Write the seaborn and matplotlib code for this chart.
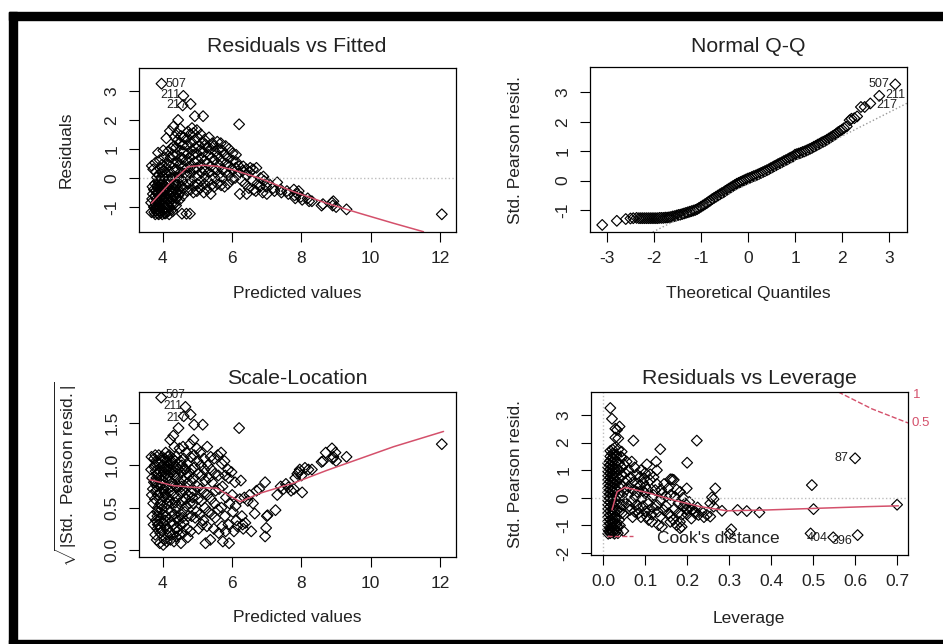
import matplotlib
matplotlib.use("Agg")
import matplotlib.pyplot as plt
from matplotlib.lines import Line2D
from matplotlib.patches import Rectangle
import seaborn as sns

# ---------------- Residuals vs Fitted ----------------
rvf_fitted = [
    3.66, 3.69, 3.71, 3.68, 3.72, 3.70, 3.67, 3.74,
    3.78, 3.80, 3.76, 3.82, 3.79, 3.81, 3.77, 3.83, 3.80, 3.86, 3.78, 3.84,
    3.88, 3.90, 3.92, 3.89, 3.91, 3.87, 3.93, 3.90, 3.88, 3.92, 3.96, 3.91, 3.94,
    3.98, 4.00, 4.02, 3.99, 4.01, 4.03, 3.97, 4.00, 4.02, 3.98, 4.04, 4.01, 4.05,
    4.08, 4.10, 4.12, 4.09, 4.11, 4.07, 4.13, 4.10, 4.08, 4.12, 4.10, 4.14,
    4.18, 4.20, 4.22, 4.19, 4.21, 4.17, 4.23, 4.20, 4.18, 4.22, 4.24, 4.20,
    4.28, 4.30, 4.32, 4.29, 4.31, 4.27, 4.33, 4.30, 4.28, 4.32, 4.30, 4.34,
    4.38, 4.40, 4.42, 4.39, 4.41, 4.37, 4.43, 4.40, 4.38, 4.42, 4.44, 4.41,
    4.48, 4.50, 4.52, 4.49, 4.51, 4.47, 4.53, 4.50, 4.48, 4.52, 4.50,
    4.55, 4.58, 4.60, 4.57, 4.62, 4.59, 4.56, 4.61, 4.58, 4.60, 4.57, 4.59,
    4.68, 4.70, 4.72, 4.69, 4.71, 4.67, 4.73, 4.70, 4.68, 4.72,
    4.78, 4.80, 4.82, 4.79, 4.81, 4.77, 4.83, 4.80, 4.78, 4.80, 4.84,
    4.88, 4.90, 4.92, 4.89, 4.91, 4.87, 4.93, 4.90, 4.88, 4.92,
    4.98, 5.00, 5.02, 4.99, 5.01, 4.97, 5.03, 5.00, 4.98,
    5.08, 5.10, 5.12, 5.09, 5.11, 5.07, 5.13, 5.10,
    5.18, 5.20, 5.22, 5.19, 5.21, 5.17, 5.23, 5.16, 5.20,
    5.28, 5.30, 5.32, 5.29, 5.31, 5.27, 5.33,
    5.38, 5.40, 5.42, 5.39, 5.41, 5.37, 5.43,
    5.48, 5.50, 5.52, 5.49, 5.51, 5.47,
    5.58, 5.60, 5.62, 5.59, 5.61, 5.57,
    5.68, 5.70, 5.72, 5.69, 5.71, 5.67,
    5.78, 5.80, 5.82, 5.79, 5.81,
    5.88, 5.90, 5.92, 5.89, 5.91,
    5.98, 6.00, 6.02, 6.01,
    6.08, 6.10, 6.12, 6.11,
    6.22, 6.18, 6.20, 6.20,
    6.28, 6.30, 6.32,
    6.42, 6.38, 6.40, 6.41,
    6.48, 6.50, 6.52,
    6.58, 6.60, 6.62,
    6.68, 6.70, 6.72,
    6.80, 6.82, 6.88, 6.90, 6.92,
    7.00, 7.02, 6.98, 7.18, 7.22, 7.30,
    7.40, 7.42, 7.58, 7.62, 7.78, 7.80, 7.82, 7.88, 7.92,
    7.98, 8.02, 8.18, 8.22, 8.30, 8.58, 8.62, 8.88, 8.90, 8.92, 9.00, 9.30, 12.05,
    3.75, 3.77, 3.79, 3.81, 3.83, 3.85, 3.74, 3.86,
    3.85, 3.87, 3.89, 3.93, 3.95, 3.84, 3.95, 3.97, 3.94, 3.96,
    4.05, 4.06, 4.04, 4.06, 4.05, 4.03, 4.15, 4.14, 4.16, 4.15, 4.13, 4.16,
    4.25, 4.24, 4.26, 4.25, 4.27, 4.35, 4.34, 4.36, 4.35, 4.45, 4.46, 4.44,
]
rvf_resid = [
    -0.85, -0.72, -0.55, 0.42, 0.30, -0.30, -1.18, -1.00,
    -1.25, -1.12, -0.98, -0.82, -0.62, -0.42, -0.20, 0.02, 0.22, 0.87, 0.52, -1.05,
    -1.25, -1.15, -1.02, -0.86, -0.70, -0.52, -0.32, -0.12, 0.10, 0.32, 3.25, 0.62, -1.20,
    -1.25, -1.10, -0.95, -0.76, -0.56, -0.36, -0.16, 0.05, 0.25, 0.46, 0.72, 0.95, -1.18,
    -1.22, -1.05, -0.90, -0.70, -0.50, -0.30, -0.10, 0.12, 0.32, 0.52, 1.37, 0.90,
    -1.25, -1.00, -0.80, -0.60, -0.40, -0.20, 0.00, 0.20, 0.45, 0.70, 1.02, 1.62,
    -1.15, -0.92, -0.66, -0.45, -0.25, 0.00, 0.25, 0.50, 0.80, 1.10, 1.77, 1.42,
    -0.95, -0.70, -0.48, -0.25, 0.02, 0.30, 0.55, 0.80, 1.05, 1.30, 2.00, 1.55,
    -0.75, -0.50, -0.30, 0.00, 0.20, 0.45, 0.70, 0.95, 1.20, 1.45, 1.70,
    -1.23, -0.60, -0.35, -0.10, 0.15, 0.40, 0.65, 0.90, 1.15, 1.40, 2.50, 2.83,
    -1.23, -0.45, -0.20, 0.10, 0.35, 0.60, 0.85, 1.10, 1.35, 1.60,
    -1.23, -0.40, -0.10, 0.15, 0.40, 0.70, 0.95, 1.20, 1.50, 2.55, 1.72,
    -0.50, -0.25, 0.05, 0.30, 0.55, 0.80, 1.05, 1.30, 1.55, 2.13,
    -0.45, -0.20, 0.10, 0.35, 0.60, 0.85, 1.10, 1.40, 1.65,
    -0.35, -0.10, 0.20, 0.45, 0.70, 0.95, 1.20, 1.50,
    -0.50, -0.20, 0.05, 0.30, 0.60, 0.90, 1.15, 2.13, 1.32,
    -0.40, -0.10, 0.20, 0.50, 0.80, 1.05, 1.40,
    -0.55, -0.25, 0.10, 0.40, 0.70, 1.00, 1.20,
    -0.30, 0.00, 0.30, 0.60, 0.90, 1.10,
    -0.20, 0.10, 0.45, 0.75, 1.00, 1.25,
    -0.25, 0.05, 0.30, 0.60, 0.95, 1.20,
    -0.30, 0.20, 0.50, 0.80, 1.10,
    -0.20, 0.10, 0.40, 0.70, 1.00,
    -0.05, 0.30, 0.60, 0.85,
    0.00, 0.35, 0.55, 0.80,
    -0.55, 0.15, 0.40, 1.85,
    -0.10, 0.25, 0.40,
    -0.55, -0.20, 0.10, 0.30,
    -0.35, 0.20, 0.35,
    -0.10, 0.30, -0.40,
    -0.45, 0.35, -0.20,
    -0.30, 0.00, -0.50, 0.05, -0.10,
    -0.55, -0.15, -0.30, -0.35, -0.45, -0.15,
    -0.40, -0.50, -0.45, -0.55, -0.40, -0.60, -0.70, -0.55, -0.45,
    -0.65, -0.75, -0.70, -0.80, -0.80, -0.95, -0.90, -0.85, -0.95, -0.80, -1.00, -1.08, -1.25,
    -1.18, -1.05, -0.90, -0.72, -0.52, -0.32, -0.40, -0.10,
    -1.22, -1.08, -0.94, -0.78, -0.60, -0.25, -0.45, -0.22, 0.00, 0.20,
    -1.22, -1.02, -0.85, -0.65, -0.45, -0.25, -1.15, -0.95, -0.75, -0.55, -0.35, -0.05,
    -1.10, -0.90, -0.70, -0.50, -0.30, -0.85, -0.60, -0.40, -0.15, -0.60, -0.40, -0.15,
]
rvf_smooth_x = [3.67, 4.20, 4.73, 5.17, 5.55, 6.03, 6.80, 7.77, 8.73, 9.69, 10.66, 11.52]
rvf_smooth_y = [-0.87, -0.18, 0.39, 0.44, 0.41, 0.28, -0.01, -0.47, -0.87, -1.22, -1.56, -1.85]

# ---------------- Normal Q-Q ----------------
qq_theoretical = [
    -3.10, -2.79, -2.60, -2.50, -2.44, -2.37,
    -2.32, -2.28, -2.24, -2.20, -2.16, -2.12, -2.08, -2.04, -2.00, -1.96, -1.92, -1.88,
    -1.84, -1.80, -1.76, -1.72,
    -1.68, -1.64, -1.60, -1.56, -1.52, -1.48, -1.44, -1.40, -1.36, -1.32, -1.28, -1.24,
    -1.20, -1.16, -1.12, -1.08, -1.04, -1.00, -0.96, -0.92, -0.88, -0.84, -0.80, -0.76,
    -0.72, -0.68, -0.64, -0.60, -0.56, -0.52, -0.48, -0.44, -0.40, -0.36, -0.32, -0.28,
    -0.24, -0.20, -0.16, -0.12, -0.08, -0.04, 0.00, 0.04, 0.08, 0.12, 0.16, 0.20,
    0.24, 0.28, 0.32, 0.36, 0.40, 0.44, 0.48, 0.52, 0.56, 0.60, 0.64, 0.68,
    0.72, 0.76, 0.80, 0.84, 0.88, 0.92, 0.96, 1.00, 1.04, 1.08, 1.12, 1.16,
    1.20, 1.24, 1.28, 1.32, 1.36, 1.40, 1.44, 1.48, 1.52, 1.56, 1.60, 1.64,
    1.68, 1.72, 1.76, 1.80, 1.84, 1.88, 1.92, 1.96, 2.00, 2.04, 2.10, 2.16,
    2.20, 2.26, 2.32, 2.40, 2.48, 2.60, 2.79, 3.13,
]
qq_sample = [
    -1.51, -1.37, -1.31, -1.29, -1.28, -1.27,
    -1.28, -1.28, -1.28, -1.28, -1.28, -1.28, -1.28, -1.28, -1.28, -1.28, -1.28, -1.27,
    -1.27, -1.27, -1.26, -1.26,
    -1.25, -1.24, -1.22, -1.21, -1.19, -1.17, -1.16, -1.14, -1.12, -1.10, -1.08, -1.06,
    -1.04, -1.02, -1.00, -0.97, -0.93, -0.89, -0.85, -0.81, -0.77, -0.72, -0.68, -0.63,
    -0.59, -0.55, -0.51, -0.47, -0.43, -0.40, -0.35, -0.31, -0.27, -0.23, -0.19, -0.15,
    -0.11, -0.08, -0.05, -0.02, 0.01, 0.04, 0.07, 0.09, 0.12, 0.15, 0.17, 0.20,
    0.23, 0.26, 0.29, 0.32, 0.35, 0.38, 0.42, 0.45, 0.49, 0.52, 0.56, 0.59,
    0.62, 0.66, 0.69, 0.72, 0.76, 0.79, 0.82, 0.88, 0.90, 0.92, 0.94, 0.97,
    0.99, 1.02, 1.05, 1.08, 1.11, 1.15, 1.18, 1.22, 1.25, 1.29, 1.32, 1.35,
    1.39, 1.43, 1.47, 1.51, 1.55, 1.60, 1.65, 1.69, 1.73, 1.78, 1.84, 2.05,
    2.10, 2.12, 2.18, 2.50, 2.50, 2.62, 2.88, 3.27,
]
qq_ref_intercept = -0.11
qq_ref_slope = 0.81

# ---------------- Scale-Location ----------------
sl_fitted = [
    3.66, 3.69, 3.71, 3.68, 3.72, 3.70, 3.67, 3.73,
    3.78, 3.80, 3.76, 3.82, 3.79, 3.81, 3.77, 3.83, 3.80, 3.84, 3.78, 3.82,
    3.88, 3.90, 3.92, 3.89, 3.91, 3.87, 3.93, 3.90, 3.88, 3.92, 3.95, 3.91, 3.94,
    3.98, 4.00, 4.02, 3.99, 4.01, 4.03, 3.97, 4.00, 4.02, 3.98, 4.04, 4.01,
    4.08, 4.10, 4.12, 4.09, 4.11, 4.07, 4.13, 4.10, 4.08, 4.12, 4.11,
    4.18, 4.20, 4.22, 4.19, 4.21, 4.17, 4.23, 4.20, 4.18, 4.22, 4.21,
    4.28, 4.30, 4.32, 4.29, 4.31, 4.27, 4.33, 4.30, 4.28, 4.32, 4.30, 4.33,
    4.38, 4.40, 4.42, 4.39, 4.41, 4.37, 4.43, 4.40, 4.38, 4.42, 4.45,
    4.48, 4.50, 4.52, 4.49, 4.51, 4.47, 4.53, 4.50, 4.48, 4.52,
    4.58, 4.60, 4.62, 4.59, 4.61, 4.57, 4.63, 4.60, 4.58, 4.60, 4.65,
    4.68, 4.70, 4.72, 4.69, 4.71, 4.67, 4.73, 4.70, 4.72,
    4.78, 4.80, 4.82, 4.79, 4.81, 4.77, 4.83, 4.80, 4.80,
    4.88, 4.90, 4.92, 4.89, 4.91, 4.87, 4.93, 4.90,
    4.98, 5.00, 5.02, 4.99, 5.01, 4.97, 5.03,
    5.08, 5.10, 5.12, 5.09, 5.11, 5.07, 5.13, 5.15,
    5.18, 5.20, 5.22, 5.19, 5.21, 5.17, 5.23,
    5.28, 5.30, 5.32, 5.29, 5.31, 5.27,
    5.38, 5.40, 5.42, 5.39, 5.41, 5.37,
    5.48, 5.50, 5.52, 5.49, 5.51, 5.47,
    5.58, 5.60, 5.62, 5.59, 5.61,
    5.68, 5.70, 5.72, 5.69, 5.71, 5.73,
    5.78, 5.80, 5.82, 5.79, 5.81,
    5.88, 5.90, 5.92, 5.89, 5.91,
    5.98, 6.00, 6.02, 6.05,
    6.08, 6.10, 6.12, 6.15, 6.20,
    6.22, 6.25, 6.28, 6.30, 6.32, 6.35, 6.38,
    6.45, 6.50, 6.55, 6.60, 6.65, 6.70, 6.78,
    6.95, 7.00, 7.02, 6.98, 6.95, 7.25, 7.30,
    7.40, 7.48, 7.55, 7.62, 7.70, 7.78, 7.82, 7.88, 7.95, 8.00, 8.02,
    7.92, 8.10, 8.20, 8.30, 8.58, 8.62, 8.70, 8.88, 8.92, 8.98, 9.00, 8.90, 9.30, 12.05,
    3.75, 3.77, 3.79, 3.81, 3.83, 3.85, 3.86, 3.84, 3.85, 3.74,
    3.95, 3.94, 3.96, 3.95, 3.93, 3.96, 3.94, 4.05, 4.06, 4.04, 4.05, 4.06,
    4.15, 4.14, 4.16, 4.15, 4.13, 4.25, 4.24, 4.26, 4.25, 4.35, 4.34, 4.36,
    4.45, 4.46, 4.44, 4.55, 4.54, 4.56, 4.65, 4.66, 4.75, 4.85,
]
sl_sqrt_std_resid = [
    0.95, 0.85, 0.72, 0.65, 0.55, 0.40, 1.10, 0.30,
    1.12, 1.05, 0.98, 0.90, 0.80, 0.70, 0.60, 0.45, 0.35, 0.25, 0.18, 0.12,
    1.12, 1.02, 0.93, 0.85, 0.75, 0.65, 0.55, 0.45, 0.30, 0.20, 1.80, 0.08, 0.38,
    1.10, 1.00, 0.92, 0.82, 0.72, 0.62, 0.52, 0.42, 0.32, 0.22, 0.12, 0.06,
    1.15, 1.05, 0.95, 0.85, 0.75, 0.65, 0.55, 0.40, 0.28, 0.18, 0.10,
    1.12, 1.02, 0.92, 0.82, 0.70, 0.58, 0.45, 0.32, 0.20, 0.12, 1.30,
    1.08, 0.98, 0.88, 0.78, 0.66, 0.55, 0.42, 0.30, 0.18, 0.10, 1.35, 1.22,
    1.10, 0.98, 0.86, 0.74, 0.62, 0.50, 0.38, 0.26, 0.16, 0.22, 1.44,
    1.20, 1.05, 0.92, 0.80, 0.68, 0.55, 0.42, 0.30, 0.18, 0.08,
    1.22, 1.08, 0.95, 0.82, 0.70, 0.58, 0.45, 0.32, 0.20, 1.58, 1.69,
    1.15, 1.02, 0.90, 0.78, 0.65, 0.52, 0.40, 0.25, 0.15,
    1.25, 1.10, 0.95, 0.82, 0.68, 0.55, 0.40, 0.22, 1.60,
    1.30, 1.12, 0.98, 0.85, 0.70, 0.55, 0.38, 1.48,
    1.20, 1.05, 0.90, 0.75, 0.60, 0.45, 0.25,
    1.15, 1.00, 0.88, 0.72, 0.58, 0.42, 0.30, 1.48,
    1.08, 0.95, 0.82, 0.68, 0.50, 0.35, 0.08,
    1.22, 1.00, 0.85, 0.65, 0.45, 0.28,
    1.10, 0.95, 0.80, 0.60, 0.42, 0.12,
    1.08, 0.90, 0.70, 0.55, 0.38, 0.25,
    1.12, 0.88, 0.72, 0.48, 0.20,
    1.15, 1.02, 0.75, 0.50, 0.28, 0.10,
    1.05, 0.88, 0.62, 0.40, 0.22,
    0.95, 0.85, 0.55, 0.30, 0.08,
    0.92, 0.65, 0.45, 0.22,
    0.80, 0.52, 0.35, 0.28, 1.44,
    0.60, 0.82, 0.40, 0.30, 0.25, 0.62, 0.32,
    0.58, 0.65, 0.22, 0.55, 0.43, 0.70, 0.72,
    0.80, 0.40, 0.41, 0.26, 0.16, 0.47, 0.65,
    0.75, 0.72, 0.78, 0.74, 0.70, 0.72, 0.85, 0.90, 0.95, 0.88, 0.68,
    0.92, 0.97, 0.95, 0.95, 1.04, 1.05, 1.15, 1.20, 1.10, 1.15, 1.05, 1.08, 1.10, 1.25,
    1.08, 1.00, 0.93, 0.85, 0.75, 0.65, 0.50, 0.40, 0.30, 0.80,
    1.06, 0.97, 0.88, 0.78, 0.68, 0.48, 0.26, 1.08, 0.97, 0.87, 0.68, 0.35,
    1.10, 0.98, 0.88, 0.62, 0.25, 1.05, 0.95, 0.75, 0.40, 1.05, 0.92, 0.56,
    0.95, 0.75, 0.35, 1.00, 0.75, 0.38, 0.95, 0.60, 0.88, 0.62,
]
sl_smooth_x = [3.62, 4.30, 4.88, 5.55, 6.23, 6.80, 7.77, 8.73, 10.66, 12.10]
sl_smooth_y = [0.83, 0.76, 0.74, 0.73, 0.57, 0.67, 0.79, 0.94, 1.22, 1.40]

# ---------------- Residuals vs Leverage ----------------
lev_leverage = [
    0.012, 0.012, 0.012, 0.012, 0.012, 0.012, 0.012, 0.012, 0.012,
    0.012, 0.012, 0.012, 0.012, 0.012, 0.012, 0.012, 0.012, 0.012,
    0.017, 0.017, 0.017, 0.017, 0.017, 0.017, 0.017, 0.017, 0.017, 0.017, 0.017,
    0.017, 0.017, 0.017, 0.017, 0.017, 0.017, 0.017, 0.017, 0.017, 0.017,
    0.022, 0.022, 0.022, 0.022, 0.022, 0.022, 0.022, 0.022, 0.022, 0.022, 0.022,
    0.022, 0.022, 0.022, 0.022, 0.022, 0.022, 0.022, 0.022, 0.022, 0.021,
    0.027, 0.027, 0.027, 0.027, 0.027, 0.027, 0.027, 0.027, 0.027, 0.027,
    0.027, 0.027, 0.027, 0.027, 0.027, 0.027, 0.027, 0.027, 0.029,
    0.032, 0.032, 0.032, 0.032, 0.032, 0.032, 0.032, 0.032, 0.032, 0.032, 0.032, 0.032,
    0.033, 0.029,
    0.038, 0.038, 0.038, 0.038, 0.038, 0.038, 0.038, 0.038, 0.039, 0.036,
    0.045, 0.045, 0.045, 0.045, 0.045, 0.045, 0.045, 0.044, 0.048,
    0.052, 0.055, 0.056, 0.060, 0.056, 0.064, 0.068, 0.068, 0.072, 0.072, 0.076, 0.080,
    0.084, 0.088, 0.088, 0.092, 0.100, 0.100, 0.095, 0.104, 0.104, 0.108, 0.112, 0.116,
    0.116, 0.124, 0.126, 0.128, 0.128, 0.128, 0.132, 0.136, 0.136, 0.136, 0.140, 0.144,
    0.156, 0.160, 0.160, 0.164, 0.168, 0.160, 0.160, 0.167, 0.171, 0.175, 0.179, 0.183,
    0.183, 0.183, 0.187, 0.187, 0.191, 0.195, 0.199, 0.199, 0.199, 0.200, 0.211, 0.219,
    0.219, 0.223, 0.227, 0.235, 0.247, 0.255, 0.255, 0.259, 0.263, 0.263, 0.267, 0.283,
    0.301, 0.305, 0.320, 0.342, 0.372, 0.494, 0.497, 0.501, 0.548, 0.600, 0.606, 0.700,
    0.050, 0.058, 0.062, 0.070, 0.075, 0.080, 0.082, 0.085, 0.090, 0.095, 0.098, 0.100,
    0.105, 0.110, 0.112, 0.115, 0.120, 0.120, 0.050, 0.055, 0.060, 0.065, 0.070, 0.075,
    0.080, 0.090, 0.095, 0.100, 0.108, 0.140, 0.145, 0.150, 0.150, 0.155, 0.170, 0.175,
    0.180, 0.190, 0.200, 0.205, 0.210, 0.225, 0.240, 0.130, 0.138, 0.118,
    0.035, 0.034, 0.036, 0.040, 0.042, 0.014, 0.020, 0.025,
]
lev_std_resid = [
    -1.30, -1.15, -1.00, -0.85, -0.70, -0.55, -0.40, -0.25, -0.10,
    0.05, 0.20, 0.35, 0.50, 0.65, 0.80, 0.95, 1.10, 1.25,
    -1.28, -1.12, -0.95, -0.80, -0.62, -0.48, -0.32, -0.15, 0.00, 0.15, 0.30,
    0.45, 0.60, 0.75, 0.90, 1.05, 1.20, 1.35, 1.50, 1.70, 3.25,
    -1.25, -1.08, -0.90, -0.75, -0.58, -0.42, -0.25, -0.08, 0.08, 0.25, 0.40,
    0.55, 0.70, 0.85, 1.00, 1.15, 1.30, 1.45, 1.60, 1.75, 2.86,
    -1.30, -1.10, -0.92, -0.72, -0.52, -0.35, -0.18, 0.00, 0.18, 0.35,
    0.52, 0.70, 0.88, 1.05, 1.22, 1.40, 1.58, 1.80, 2.50,
    -1.20, -0.95, -0.70, -0.45, -0.20, 0.05, 0.30, 0.55, 0.80, 1.05, 1.30, 1.55,
    2.46, 2.18,
    -0.80, -0.50, -0.20, 0.10, 0.40, 0.70, 1.00, 1.25, 2.58, 2.15,
    -0.55, -0.25, 0.10, 0.45, 0.80, 1.10, 1.45, 1.67, -1.20,
    0.90, 0.30, 0.64, 1.00, 1.31, -0.44, -0.14, 1.31, 0.28, 2.07, 0.04, -0.26,
    -0.56, 0.46, 0.76, -0.02, 0.16, 0.40, 0.55, 1.21, -0.68, -0.20, 0.64, 0.04,
    -0.87, 0.28, 1.31, 1.00, 0.50, -0.26, -0.99, 1.76, -0.08, -0.68, -1.05, -0.44,
    -0.56, 0.10, 0.67, 0.67, 0.65, -0.87, -0.68, -0.80, 0.04, -0.99, -0.20, 0.22,
    -0.87, -1.10, -1.05, -0.62, -0.32, -0.20, 0.34, -0.44, -0.38, 1.27, -0.44, -0.50,
    -0.56, 2.07, -0.62, -0.50, -0.62, -0.68, -0.20, 0.02, -0.32, -0.05, 0.34, -0.47,
    -1.31, -1.14, -0.44, -0.48, -0.53, -1.29, 0.46, -0.41, -1.43, 1.43, -1.35, -0.25,
    1.20, 0.10, -0.30, 0.55, 1.10, 0.85, 0.20, -0.40, 1.00, -0.30, 0.70, -0.50,
    0.30, -0.45, 0.85, -0.60, 0.10, 0.75, -0.60, -0.20, 0.40, 0.75, -0.70, -0.50,
    0.50, -0.70, 0.25, 0.90, -0.80, 0.15, 0.50, 0.05, -0.30, 0.35, -0.40, 0.30,
    -0.55, 0.00, -0.60, -0.15, -0.75, -0.35, -0.70, -0.50, 0.30, -0.35,
    -1.28, -1.05, 1.75, -1.00, 1.50, -1.22, -1.20, -1.24,
]
lev_smooth_x = [0.021, 0.033, 0.052, 0.112, 0.167, 0.231, 0.295, 0.390, 0.509, 0.628, 0.703]
lev_smooth_y = [-0.44, 0.22, 0.38, 0.16, -0.08, -0.32, -0.47, -0.44, -0.38, -0.32, -0.29]
cook_half_x = [0.560, 0.640, 0.726]
cook_half_y = [3.83, 3.22, 2.71]

assert len(rvf_fitted) == len(rvf_resid)
assert len(qq_theoretical) == len(qq_sample)
assert len(sl_fitted) == len(sl_sqrt_std_resid)
assert len(lev_leverage) == len(lev_std_resid)

# ---------------- style ----------------
sns.set_theme(style="white")
plt.rcParams["font.family"] = ["Liberation Sans", "DejaVu Sans"]
plt.rcParams["mathtext.fontset"] = "custom"
plt.rcParams["mathtext.rm"] = "Liberation Sans"
plt.rcParams["mathtext.it"] = "Liberation Sans:italic"

W, H = 943, 644
RED = "#D4506B"
TXT = "#222222"
fig = plt.figure(figsize=(W / 100, H / 100), dpi=100)
fig.patch.set_facecolor("white")


def px_box(l, t, r, b):
    return [l / W, 1 - b / H, (r - l) / W, (b - t) / H]


def px_text(x, y, s, **kw):
    fig.text(x / W, 1 - y / H, s, ha="center", va="center", color=TXT, **kw)


def style_axes(ax, xticks, yticks, xlim, ylim, xfmt="{:g}", yfmt="{:g}"):
    ax.set_xlim(*xlim)
    ax.set_ylim(*ylim)
    ax.set_xticks(xticks)
    ax.set_yticks(yticks)
    ax.set_xticklabels([xfmt.format(v) for v in xticks])
    ax.set_yticklabels([yfmt.format(v) for v in yticks], rotation=90, va="center")
    ax.tick_params(direction="out", length=7, width=0.8, color="black",
                   labelsize=12.5, labelcolor=TXT, pad=7,
                   bottom=True, left=True)
    for sp in ax.spines.values():
        sp.set_visible(True)
        sp.set_color("black")
        sp.set_linewidth(0.9)
    ax.set_xlabel("")
    ax.set_ylabel("")


pt_kw = dict(marker="D", s=30, facecolor="none", edgecolor="black", linewidth=0.85)
lab_kw = dict(fontsize=9, color=TXT, va="center")

# Residuals vs Fitted
ax1 = fig.add_axes(px_box(139, 68, 456, 232))
ax1.axhline(0, color="#bdbdbd", ls=":", lw=1)
sns.scatterplot(x=rvf_fitted, y=rvf_resid, ax=ax1, **pt_kw)
sns.lineplot(x=rvf_smooth_x, y=rvf_smooth_y, ax=ax1, color=RED, lw=1.1, sort=False, estimator=None)
style_axes(ax1, [4, 6, 8, 10, 12], [-1, 0, 1, 2, 3], (3.31, 12.46), (-1.86, 3.79))
ax1.text(4.08, 3.25, "507", **lab_kw)
ax1.text(4.50, 2.87, "211", ha="right", **lab_kw)
ax1.text(4.70, 2.52, "217", ha="right", **lab_kw)

# Normal Q-Q
ax2 = fig.add_axes(px_box(590, 67, 907, 232))
ax2.axline((0, qq_ref_intercept), slope=qq_ref_slope, color="#9a9a9a", ls=":", lw=1)
sns.scatterplot(x=qq_theoretical, y=qq_sample, ax=ax2, **pt_kw)
style_axes(ax2, [-3, -2, -1, 0, 1, 2, 3], [-1, 0, 1, 2, 3], (-3.36, 3.38), (-1.75, 3.86))
ax2.text(3.00, 3.27, "507", ha="right", **lab_kw)
ax2.text(2.92, 2.92, "211", **lab_kw)
ax2.text(2.72, 2.58, "217", **lab_kw)

# Scale-Location
ax3 = fig.add_axes(px_box(139, 392, 456, 557))
sns.scatterplot(x=sl_fitted, y=sl_sqrt_std_resid, ax=ax3, **pt_kw)
sns.lineplot(x=sl_smooth_x, y=sl_smooth_y, ax=ax3, color=RED, lw=1.1, sort=False, estimator=None)
style_axes(ax3, [4, 6, 8, 10, 12], [0.0, 0.5, 1.0, 1.5], (3.31, 12.46), (-0.083, 1.866),
           yfmt="{:.1f}")
ax3.text(4.07, 1.83, "507", fontsize=8.5, color=TXT, va="center")
ax3.text(4.55, 1.695, "211", ha="right", fontsize=8.5, color=TXT, va="center")
ax3.text(4.68, 1.56, "217", ha="right", fontsize=8.5, color=TXT, va="center")

# Residuals vs Leverage
ax4 = fig.add_axes(px_box(591, 392, 908, 555))
ax4.axhline(0, color="#bdbdbd", ls=":", lw=1)
ax4.axvline(0, color="#bdbdbd", ls=":", lw=1)
sns.scatterplot(x=lev_leverage, y=lev_std_resid, ax=ax4, **pt_kw)
sns.lineplot(x=lev_smooth_x, y=lev_smooth_y, ax=ax4, color=RED, lw=1.1, sort=False, estimator=None)
sns.lineplot(x=cook_half_x, y=cook_half_y, ax=ax4, color=RED, lw=1.0, linestyle="--",
             sort=False, estimator=None)
style_axes(ax4, [0.0, 0.1, 0.2, 0.3, 0.4, 0.5, 0.6, 0.7], [-2, -1, 0, 1, 2, 3],
           (-0.029, 0.726), (-2.07, 3.83), xfmt="{:.1f}")
ax4.text(0.585, 1.43, "87", ha="right", **lab_kw)
ax4.text(0.535, -1.45, "404", ha="right", **lab_kw)
ax4.text(0.593, -1.58, "396", ha="right", **lab_kw)
ax4.add_line(Line2D([0.05, 0.133], [0.117, 0.117], transform=ax4.transAxes,
                    color=RED, ls="--", lw=1.0))
ax4.text(0.208, 0.104, "Cook's distance", transform=ax4.transAxes,
         fontsize=12.5, color=TXT, va="center")
fig.text(913 / W, 1 - 395 / H, "1", fontsize=9.5, color=RED, va="center")
fig.text(912 / W, 1 - 423 / H, "0.5", fontsize=9.5, color=RED, va="center")

# titles and axis labels
px_text(297, 47, "Residuals vs Fitted", fontsize=15.3)
px_text(748, 47, "Normal Q-Q", fontsize=15.3)
px_text(297, 379, "Scale-Location", fontsize=15.3)
px_text(749, 379, "Residuals vs Leverage", fontsize=15.3)
px_text(297, 293, "Predicted values", fontsize=12.5)
px_text(748, 293, "Theoretical Quantiles", fontsize=12.5)
px_text(297, 618, "Predicted values", fontsize=12.5)
px_text(749, 618, "Leverage", fontsize=12.5)
px_text(66, 150, "Residuals", fontsize=12.5, rotation=90)
px_text(515, 150, "Std. Pearson resid.", fontsize=12.5, rotation=90)
px_text(66, 474, r"$\sqrt{|\mathrm{Std.\ Pearson\ resid.}|}$", fontsize=12.5, rotation=90)
px_text(515, 474, "Std. Pearson resid.", fontsize=12.5, rotation=90)

# black frame around the picture
for (l, t, r, b) in [(9, 12, W, 20), (9, 12, 17, H), (9, 640, W, H)]:
    fig.patches.append(Rectangle((l / W, 1 - b / H), (r - l) / W, (b - t) / H,
                                 transform=fig.transFigure, color="black", zorder=10))

fig.savefig("out.png", dpi=100)
